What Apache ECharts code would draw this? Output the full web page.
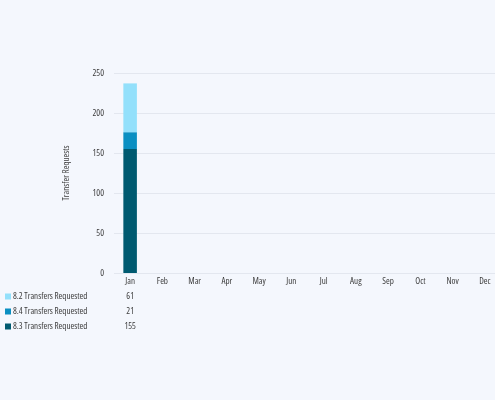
<!DOCTYPE html>
<html>
<head>
<meta charset="utf-8">
<script src="https://cdn.jsdelivr.net/npm/echarts@6/dist/echarts.min.js"></script>
<style>
  html, body { margin: 0; padding: 0; background: #f4f7fd; }
  #chart { width: 495px; height: 400px; }
</style>
</head>
<body>
<div id="chart"></div>
<script>
const months = ['Jan', 'Feb', 'Mar', 'Apr', 'May', 'Jun', 'Jul', 'Aug', 'Sep', 'Oct', 'Nov', 'Dec'];
const seriesNames = ['8.2 Transfers Requested', '8.4 Transfers Requested', '8.3 Transfers Requested'];
const v82 = [61, null, null, null, null, null, null, null, null, null, null, null];
const v84 = [21, null, null, null, null, null, null, null, null, null, null, null];
const v83 = [155, null, null, null, null, null, null, null, null, null, null, null];
const yTicks = [0, 50, 100, 150, 200, 250];

const font = "'Open Sans', sans-serif";
const textColor = '#3c3c3c';
// Open Sans is a variable font with a width axis, ask for the condensed cut
const narrow = { fontSize: 9, color: textColor, fontFamily: font, fontStyle: 'condensed' };

// table row under the axis: one category axis per series showing its values
const tableAxis = (vals, offset) => ({
  type: 'category',
  data: vals.map((v) => (v == null ? '' : String(v))),
  position: 'bottom',
  offset: offset,
  axisLine: { show: false },
  axisTick: { show: false },
  axisLabel: { margin: 4, interval: 0, ...narrow },
  splitLine: { show: false },
});

const myChart = echarts.init(document.getElementById('chart'));
myChart.setOption({
  backgroundColor: '#f4f7fd',
  textStyle: { fontFamily: font },
  legend: {
    orient: 'vertical',
    left: 0,
    top: 287,
    itemWidth: 6,
    itemHeight: 6,
    itemGap: 6,
    icon: 'rect',
    selectedMode: false,
    data: seriesNames,
    textStyle: { ...narrow, padding: [0, 0, 0, -3] },
  },
  // plot runs past the right edge, like the original
  grid: { left: 114, width: 387, top: 73, bottom: 127, outerBoundsMode: 'none' },
  xAxis: [
    {
      type: 'category',
      data: months,
      axisLine: { show: false },
      axisTick: { show: false },
      axisLabel: { margin: 4, interval: 0, ...narrow },
    },
    tableAxis(v82, 15),
    tableAxis(v84, 30),
    tableAxis(v83, 45),
  ],
  yAxis: {
    type: 'value',
    min: yTicks[0],
    max: yTicks[yTicks.length - 1],
    interval: 50,
    name: 'Transfer Requests',
    nameLocation: 'middle',
    nameRotate: 90,
    nameGap: 43,
    nameTextStyle: narrow,
    axisLabel: { margin: 10, ...narrow },
    splitLine: { lineStyle: { color: '#e3e7ef', width: 1 } },
  },
  series: [
    { name: seriesNames[2], type: 'bar', stack: 'total', data: v83, barWidth: '42%', itemStyle: { color: '#005a70' } },
    { name: seriesNames[1], type: 'bar', stack: 'total', data: v84, barWidth: '42%', itemStyle: { color: '#0a8fc2' } },
    { name: seriesNames[0], type: 'bar', stack: 'total', data: v82, barWidth: '42%', itemStyle: { color: '#93e0fb' } },
  ],
});
</script>
</body>
</html>
